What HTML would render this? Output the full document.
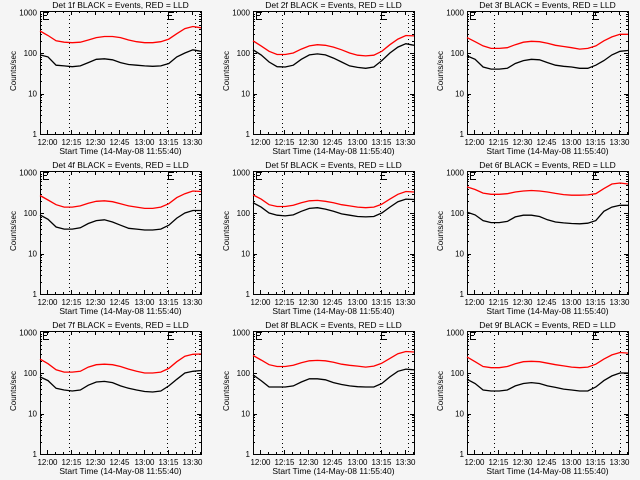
<!DOCTYPE html>
<html><head><meta charset="utf-8"><style>
body{margin:0;background:#f5f5f5;}
svg{display:block;font-family:"Liberation Sans",sans-serif;}
</style></head><body>
<svg id="c" width="640" height="480"></svg>
<script>
const detectors=["1f","2f","3f","4f","5f","6f","7f","8f","9f"];
const tickLabels=["12:00","12:15","12:30","12:45","13:00","13:15","13:30"];
const yTickLabels=["1","10","100","1000"];
const blackSeries=[
[90,80,50,48,46,48,58,70,72,68,58,52,50,48,47,48,55,80,100,120,110],
[120,90,60,46,45,50,70,90,95,90,75,60,48,44,42,45,65,100,140,170,155],
[85,70,45,40,40,42,55,65,70,68,58,50,47,45,42,42,50,65,90,110,115],
[90,70,45,40,40,43,55,65,68,60,50,42,40,38,38,40,50,75,100,115,115],
[180,140,100,88,85,90,110,130,135,125,110,95,88,82,80,82,100,140,190,220,215],
[105,90,65,58,58,62,80,88,88,82,68,60,57,55,54,56,65,110,140,155,155],
[80,65,42,38,36,38,50,60,62,58,48,42,38,35,34,36,48,70,100,110,115],
[90,65,45,45,45,48,60,72,72,68,58,52,48,46,45,45,55,80,110,125,120],
[70,55,38,36,36,38,48,55,58,55,48,44,40,38,36,36,45,65,85,100,100]];
const redSeries=[
[350,270,200,185,180,185,210,240,255,255,240,210,190,180,180,190,220,300,400,450,420],
[200,150,110,92,92,100,125,150,160,155,140,120,100,88,85,88,110,160,220,270,265],
[240,190,150,130,130,135,160,185,195,190,175,155,145,135,125,130,150,200,250,290,290],
[270,210,160,140,140,150,175,195,200,190,170,150,140,130,130,140,170,240,300,350,340],
[280,220,160,145,145,155,180,200,205,195,180,160,150,140,135,140,165,220,290,340,330],
[440,380,310,290,290,300,330,350,360,350,330,305,285,275,275,280,300,400,520,550,520],
[220,170,120,105,105,110,140,160,165,160,145,125,110,100,100,105,130,190,260,290,295],
[270,210,160,145,145,155,180,200,205,200,185,165,155,148,140,148,175,230,300,340,330],
[250,190,145,135,135,145,170,190,195,190,175,160,150,140,135,140,165,220,280,320,310]];
// minutes after 11:55:40 for dotted markers
const markerMinutes=[18,78.7,96];

const NS="http://www.w3.org/2000/svg";
const svg=document.getElementById('c');
function mk(tag,attrs,parent){const e=document.createElementNS(NS,tag);for(const k in attrs)e.setAttribute(k,attrs[k]);(parent||svg).appendChild(e);return e;}
const colX=[40,253,467],rowY=[11,171,331];
const W=161,H=123;
detectors.forEach((det,i)=>{
  const x0=colX[i%3],yTop=rowY[Math.floor(i/3)],yBot=yTop+H;
  const g=mk('g',{});
  
  
  const tMax=100;
  const xs=m=>x0+m/tMax*W;
  const ys=v=>yBot-(Math.log10(v))*40.5;
  const t=mk('text',{x:x0+W/2,y:yTop-3,'font-size':8.5,'text-anchor':'middle'},g);
  t.textContent='Det '+det+' BLACK = Events, RED = LLD';
  
  
  const box=mk('rect',{x:x0+0.5,y:yTop+0.5,width:W,height:H,fill:'none',stroke:'#000','stroke-width':1},g);
  
  
  for(let m=4.33;m<=tMax;m+=5){
    const k=Math.round((m-4.33)/5);const major=k%3===0;const len=major?4:2;const x=Math.round(xs(m))+0.5;
    mk('line',{x1:x,x2:x,y1:yBot,y2:yBot-len,stroke:'#000'},g);
    mk('line',{x1:x,x2:x,y1:yTop,y2:yTop+len,stroke:'#000'},g);
    if(major&&k/3<tickLabels.length){
      const l=mk('text',{x:x,y:yBot+11,'font-size':8,'text-anchor':'middle'},g);
      l.textContent=tickLabels[k/3];
      
      
    }
  }
  const xt=mk('text',{x:x0+W/2,y:yBot+20,'font-size':8.5,'text-anchor':'middle'},g);
  xt.textContent='Start Time (14-May-08 11:55:40)';
  
  
  for(let d=0;d<3;d++)for(let n=1;n<10;n++){
    const y=Math.round(ys(n*Math.pow(10,d)))+0.5;const len=n===1?4:2;
    mk('line',{x1:x0,x2:x0+len,y1:y,y2:y,stroke:'#000'},g);
    mk('line',{x1:x0+W,x2:x0+W-len,y1:y,y2:y,stroke:'#000'},g);
  }
  yTickLabels.forEach((s,k)=>{
    const l=mk('text',{x:x0-3,y:ys(Math.pow(10,k))+3,'font-size':8,'text-anchor':'end'},g);
    l.textContent=s;
    
    
  });
  const yt=mk('text',{x:0,y:0,'font-size':8,'text-anchor':'middle',transform:`translate(${x0-24},${yTop+60}) rotate(-90)`},g);
  yt.textContent='Counts/sec';
  
  
  markerMinutes.forEach(m=>{
    const x=Math.round(xs(m))+0.5-(i%3===2?2:0);
    const l=mk('line',{x1:x,x2:x,y1:yTop,y2:yBot,stroke:'#000','stroke-dasharray':'1,3'},g);
    
    
  });
  [x0+3,Math.round(xs(markerMinutes[1]))+1-(i%3===2?2:0)].forEach(x=>{
    const e=mk('path',{d:`M${x+6},${yTop+1.5}H${x+0.5}V${yTop+8.5}H${x+6}M${x},${yTop+4.5}H${x+4}`,fill:'none',stroke:'#000'},g);
    
    
  });
  [[redSeries[i],'#ff0000','red-lld-series'],[blackSeries[i],'#000','black-events-series']].forEach(([arr,col,nm])=>{
    const pts=arr.map((v,k)=>xs(k*5).toFixed(1)+','+ys(v).toFixed(1)).join(' ');
    const p=mk('polyline',{points:pts,fill:'none',stroke:col,'stroke-width':1.3},g);
    
    
  });
});
</script>
</body></html>
